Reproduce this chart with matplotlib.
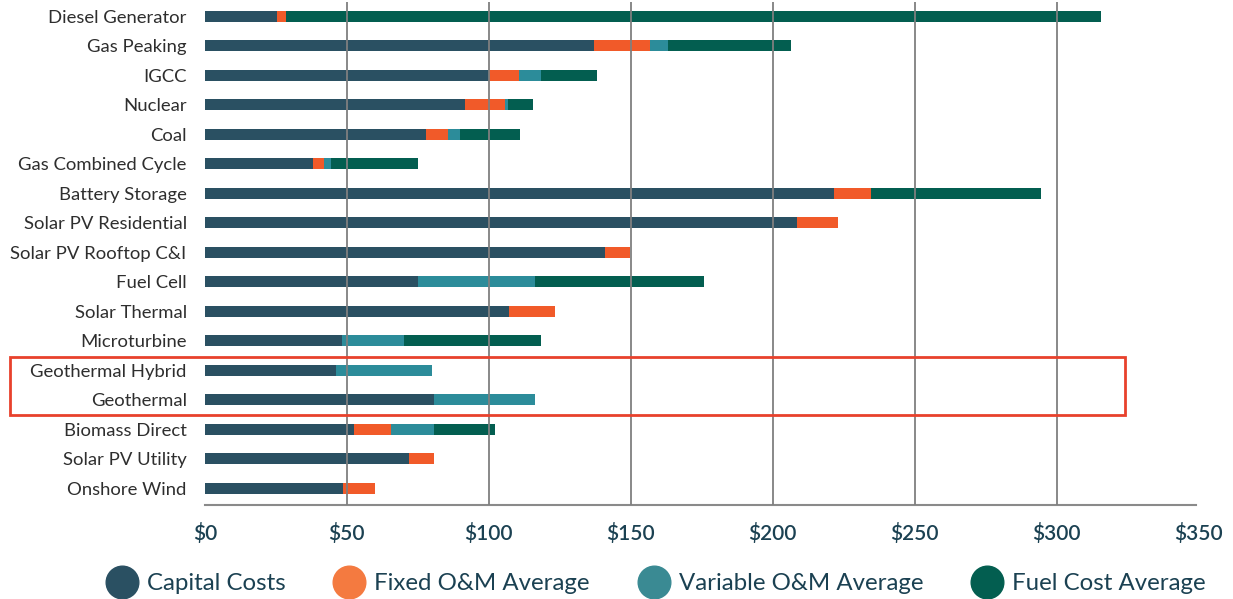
import matplotlib
matplotlib.use("Agg")
import matplotlib.pyplot as plt
from matplotlib.lines import Line2D
from matplotlib.patches import Rectangle
import numpy as np

categories = ["Diesel Generator", "Gas Peaking", "IGCC", "Nuclear", "Coal",
              "Gas Combined Cycle", "Battery Storage", "Solar PV Residential",
              "Solar PV Rooftop C&I", "Fuel Cell", "Solar Thermal", "Microturbine",
              "Geothermal Hybrid", "Geothermal", "Biomass Direct",
              "Solar PV Utility", "Onshore Wind"]
capital = [25.5, 137.0, 100.0, 91.7, 77.9, 38.2, 221.7, 208.6, 141.0, 75.1,
           107.1, 48.3, 46.2, 80.8, 52.5, 71.9, 48.6]
fixed_om = [3.1, 19.8, 10.7, 14.1, 7.8, 3.7, 12.9, 14.5, 8.7, 0.0,
            16.3, 0.0, 0.0, 0.0, 13.1, 8.9, 11.3]
variable_om = [0.0, 6.3, 7.7, 1.0, 4.2, 2.6, 0.0, 0.0, 0.0, 41.2,
               0.0, 21.9, 33.9, 35.5, 15.2, 0.0, 0.0]
fuel = [287.0, 43.4, 19.8, 8.8, 21.1, 30.6, 59.9, 0.0, 0.0, 59.6,
        0.0, 48.2, 0.0, 0.0, 21.5, 0.0, 0.0]
series_names = ["Capital Costs", "Fixed O&M Average", "Variable O&M Average", "Fuel Cost Average"]
x_ticks = [0, 50, 100, 150, 200, 250, 300, 350]
x_tick_labels = ["$0", "$50", "$100", "$150", "$200", "$250", "$300", "$350"]
highlight = ["Geothermal Hybrid", "Geothermal"]

bar_colors = ["#2A5062", "#F15A29", "#2C8C9A", "#035E50"]
legend_colors = ["#2A5062", "#F47A40", "#3A8A93", "#035E50"]
label_color = "#2E2E2E"
tick_color = "#1B4152"

plt.rcParams['font.family'] = ['Lato', 'DejaVu Sans']

fig = plt.figure(figsize=(12.33, 5.99), dpi=100)
ax = fig.add_axes([0.1661, 0.157, 0.972 - 0.1661, 0.9967 - 0.157])

y = np.arange(len(categories))
left = np.zeros(len(categories))
for vals, col in zip([capital, fixed_om, variable_om, fuel], bar_colors):
    v = np.array(vals)
    ax.barh(y, v, left=left, height=0.373, color=col, zorder=2, linewidth=0)
    left = left + v

ax.set_xlim(0, 350)
ax.set_ylim(16.56, -0.49)
ax.set_yticks(y)
ax.set_yticklabels(categories, fontsize=13.3, color=label_color)
ax.set_xticks(x_ticks)
ax.set_xticklabels(x_tick_labels, fontsize=15, color=tick_color, fontweight='semibold')
ax.tick_params(axis='both', length=0)
ax.tick_params(axis='y', pad=13)
ax.tick_params(axis='x', pad=13)

for s in ["top", "right", "left"]:
    ax.spines[s].set_visible(False)
ax.spines["bottom"].set_color("#8a8a8a")
ax.spines["bottom"].set_linewidth(1.5)
ax.spines["bottom"].set_bounds(0, 349)

for xv in x_ticks[1:-1]:
    ax.axvline(xv, color="#7f7f7f", linewidth=1.3, zorder=3)

# highlight box around geothermal rows
idx = [categories.index(h) for h in highlight]
y0 = min(idx) - 0.47
y1 = max(idx) + 0.51
box = Rectangle((-68.6, y0), 324 + 68.6, y1 - y0, fill=False,
                edgecolor="#E8412C", linewidth=2, clip_on=False, zorder=4)
ax.add_patch(box)

handles = [Line2D([0], [0], marker='o', linestyle='none', markersize=23.5,
                  markerfacecolor=c, markeredgecolor=c) for c in legend_colors]
leg = fig.legend(handles, series_names, loc='center', bbox_to_anchor=(0.532, 0.026),
                 ncol=4, frameon=False, fontsize=17.3, handlelength=1.3,
                 handletextpad=0.4, columnspacing=2.0, borderpad=0)
for t in leg.get_texts():
    t.set_color(tick_color)

fig.savefig("out.png", dpi=100)
